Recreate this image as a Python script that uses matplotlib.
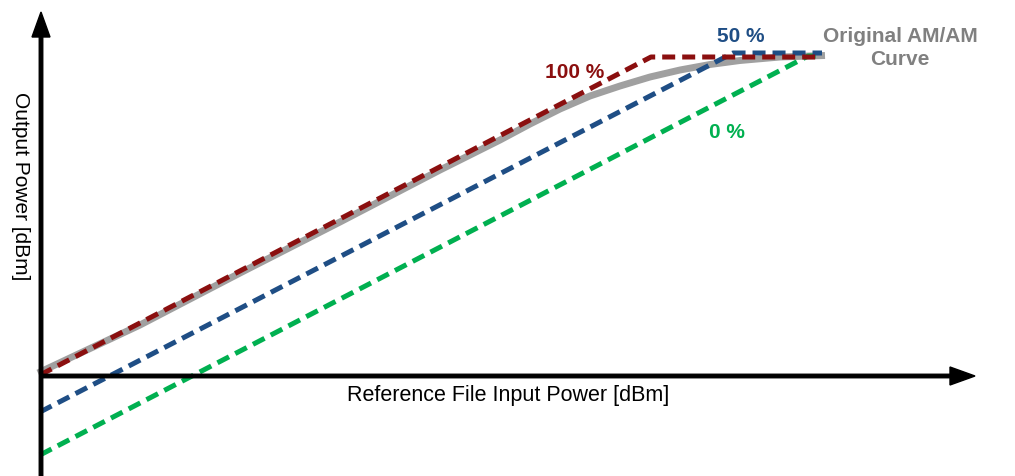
import matplotlib
matplotlib.use("Agg")
import matplotlib.pyplot as plt

plt.rcParams['font.family'] = ['Liberation Sans', 'DejaVu Sans']

# original AM/AM curve (input power vs output power, arbitrary dB units)
am_in = [-0.2, 10.0, 20.0, 30.0, 40.0, 46.0, 49.0, 52.0, 55.0, 58.0, 61.0,
         64.0, 67.0, 70.0, 74.0, 78.5]
am_out = [0.2, 5.0, 10.2, 15.3, 20.5, 23.5, 25.1, 26.6, 27.9, 28.9, 29.8,
          30.5, 31.05, 31.45, 31.8, 31.95]

# linear reference curves for the three percentages
in_100 = [0.0, 61.1, 78.2]
out_100 = [0.0, 31.8, 31.8]
in_50 = [0.0, 69.3, 78.2]
out_50 = [-3.7, 32.2, 32.2]
in_0 = [0.0, 76.8, 78.2]
out_0 = [-8.0, 31.9, 31.9]

labels = ['100 %', '50 %', '0 %']
colors = ['#8b0f0f', '#1f4e85', '#00b050']

fig = plt.figure(figsize=(10.15, 4.76), dpi=100)
ax = fig.add_axes([0, 0, 1, 1])
ax.set_xlim(-4.0, 97.5)
ax.set_ylim(-10.1, 37.5)
ax.axis('off')

ax.plot(am_in, am_out, color='#a0a0a0', lw=5, solid_capstyle='butt',
        solid_joinstyle='round', zorder=2)
ax.plot(in_0, out_0, color=colors[2], lw=3.6, dashes=(2.6, 1.4), zorder=3)
ax.plot(in_50, out_50, color=colors[1], lw=3.6, dashes=(2.6, 1.4), zorder=4)
ax.plot(in_100, out_100, color=colors[0], lw=3.6, dashes=(2.6, 1.4), zorder=5)

# axes with arrow heads
ax.arrow(0.1, -10.1, 0, 46.4, width=0.35, head_width=1.8, head_length=2.5,
         length_includes_head=True, color='black', zorder=6)
ax.arrow(0.0, -0.1, 93.5, 0, width=0.35, head_width=1.8, head_length=2.5,
         length_includes_head=True, color='black', zorder=6)

ax.text(53.5, 30.3, labels[0], color=colors[0], fontsize=15, fontweight='bold',
        ha='center', va='center')
ax.text(70.1, 33.8, labels[1], color=colors[1], fontsize=15, fontweight='bold',
        ha='center', va='center')
ax.text(68.7, 24.2, labels[2], color=colors[2], fontsize=15, fontweight='bold',
        ha='center', va='center')
ax.text(86.0, 32.7, 'Original AM/AM\nCurve', color='#808080', fontsize=15,
        fontweight='bold', ha='center', va='center', linespacing=1.25)

ax.text(46.8, -2.1, 'Reference File Input Power [dBm]', fontsize=15.5,
        ha='center', va='center')
ax.text(-2.0, 18.9, 'Output Power [dBm]', fontsize=15, rotation=-90,
        ha='center', va='center')

fig.savefig('out.png', dpi=100)
